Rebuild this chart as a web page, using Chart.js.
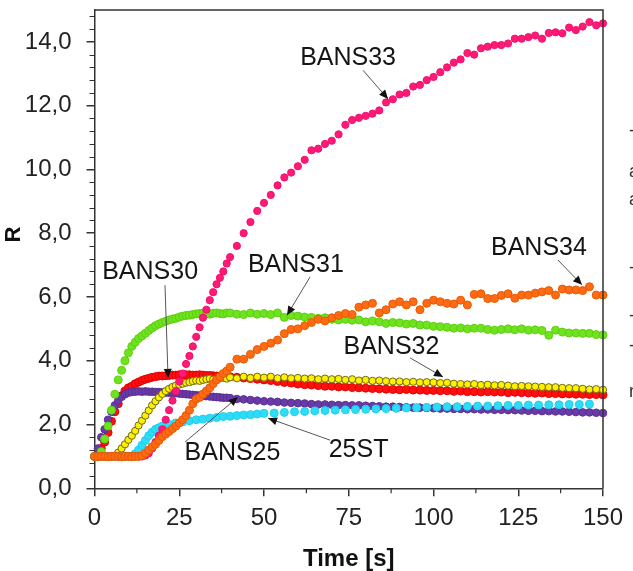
<!DOCTYPE html>
<html><head><meta charset="utf-8">
<script src="https://cdn.jsdelivr.net/npm/chart.js@4.4.1/dist/chart.umd.min.js"></script>
<style>html,body{margin:0;padding:0;background:#fff;overflow:hidden}</style>
</head><body>
<canvas id="c" width="633" height="571"></canvas>
<script>
// ---- data ----
const timeMain = [0,1,2,3,4,5,6,7,8,9,10,11,12,13,14,15,16,17,18,19,20,21,22,23,24,25,26,27,28,29,30,31,32,33,34,35,36,37,38,39,40,
 42,44,46,48,50,52,54,56,58,60,62,64,66,68,70,72,74,76,78,80,82,84,86,88,90,92,94,96,98,100,
 102,104,106,108,110,112,114,116,118,120,122,124,126,128,130,132,134,136,138,140,142,144,146,148,150];
const time25ST = [0,1,2,3,4,5,6,7,8,9,10,11,12,13,14,15,16,17,18,19,20,
 22,24,26,28,30,32,34,36,38,40,42,44,46,48,50,
 53,56,59,62,65,68,71,74,77,80,83,86,89,92,95,98,101,104,107,110,113,116,119,122,125,128,131,134,137,140,143,146];

const bans33 = [1.0,1.0,1.01,0.99,1.0,1.0,1.01,1.0,0.99,1.0,1.0,1.0,1.01,1.0,1.0,
 1.03,1.1,1.25,1.45,1.65,1.85,2.15,2.45,2.75,3.05,3.35,3.6,3.9,4.15,4.45,4.75,5.05,5.35,5.6,5.9,6.15,6.4,6.6,6.8,7.05,7.25,
 7.6,8.0,8.35,8.7,8.95,9.2,9.5,9.75,9.9,10.1,10.3,10.6,10.65,10.8,10.9,11.1,11.4,11.55,11.62,11.68,11.75,11.85,12.1,12.2,12.35,12.4,12.6,12.65,12.8,12.9,
 13.05,13.2,13.35,13.45,13.65,13.6,13.8,13.85,13.9,13.9,13.95,14.1,14.1,14.15,14.2,14.1,14.28,14.3,14.27,14.45,14.37,14.48,14.62,14.52,14.58];
const bans34 = [1.0,0.99,1.0,1.0,0.99,1.0,1.0,1.0,0.99,1.0,1.0,0.99,1.0,1.0,1.02,
 1.1,1.2,1.3,1.38,1.5,1.62,1.7,1.78,1.87,1.95,2.05,2.15,2.28,2.45,2.65,2.8,2.85,2.95,3.05,3.15,3.28,3.4,3.5,3.6,3.68,3.8,
 4.05,4.05,4.2,4.35,4.45,4.55,4.65,4.85,4.98,5.0,5.1,5.2,5.3,5.25,5.35,5.42,5.48,5.45,5.68,5.75,5.8,5.5,5.6,5.78,5.85,5.75,5.85,5.6,5.8,5.9,
 5.85,5.8,5.78,5.9,5.75,6.08,6.1,5.95,5.95,6.05,6.1,5.96,6.06,6.06,6.12,6.16,6.2,6.06,6.25,6.22,6.22,6.2,6.32,6.06,6.06];
const bans31 = [1.0,1.0,1.15,1.55,1.95,2.45,2.95,3.4,3.7,4.0,4.25,4.45,4.58,4.7,4.78,4.86,4.95,5.03,5.1,5.15,5.2,
 5.24,5.28,5.31,5.33,5.37,5.4,5.42,5.43,5.45,5.47,5.48,5.5,5.48,5.46,5.49,5.5,5.48,5.47,5.5,5.5,
 5.46,5.45,5.5,5.46,5.48,5.45,5.5,5.36,5.42,5.4,5.37,5.36,5.33,5.35,5.3,5.28,5.3,5.27,5.28,5.22,5.25,5.22,5.17,5.2,5.19,5.15,5.17,5.12,5.12,5.08,
 5.07,5.05,5.02,5.03,5.0,5.02,5.02,4.98,4.96,4.98,5.0,4.97,5.0,4.96,4.97,4.95,4.8,4.96,4.9,4.87,4.87,4.86,4.86,4.82,4.81];
const bans30 = [1.0,1.05,1.25,1.45,1.75,2.1,2.4,2.65,2.9,3.05,3.15,3.2,3.28,3.33,3.38,3.42,3.45,3.48,3.5,3.52,3.52,
 3.53,3.54,3.55,3.55,3.56,3.55,3.56,3.56,3.55,3.55,3.56,3.55,3.54,3.54,3.53,3.52,3.52,3.52,3.51,3.5,
 3.48,3.46,3.44,3.42,3.4,3.38,3.35,3.32,3.3,3.27,3.25,3.24,3.22,3.2,3.2,3.18,3.18,3.16,3.15,3.14,3.13,3.12,3.11,3.1,3.09,3.1,3.08,3.08,3.07,3.07,
 3.06,3.06,3.04,3.05,3.03,3.03,3.02,3.03,3.02,3.02,3.0,3.01,3.0,2.99,2.98,2.99,2.97,2.97,2.96,2.96,2.95,2.95,2.94,2.94,2.93];
const bans32 = [1.0,1.0,1.0,1.0,1.0,1.0,1.02,1.12,1.25,1.38,1.52,1.65,1.8,1.97,2.12,2.28,2.44,2.6,2.73,2.85,2.96,
 3.05,3.12,3.18,3.22,3.25,3.28,3.31,3.33,3.36,3.38,3.37,3.4,3.42,3.44,3.41,3.42,3.45,3.46,3.44,3.48,
 3.45,3.5,3.46,3.5,3.47,3.5,3.45,3.48,3.45,3.46,3.44,3.45,3.42,3.44,3.42,3.43,3.4,3.42,3.38,3.4,3.37,3.38,3.36,3.35,3.35,3.33,3.34,3.32,3.33,3.32,
 3.3,3.31,3.28,3.27,3.26,3.27,3.24,3.25,3.23,3.24,3.22,3.2,3.21,3.2,3.19,3.18,3.17,3.17,3.15,3.14,3.14,3.12,3.1,3.11,3.09];
const bans25 = [1.0,1.25,1.6,1.85,2.15,2.4,2.6,2.75,2.87,2.95,3.0,3.02,3.03,3.04,3.03,3.04,3.03,3.03,3.02,3.02,3.01,
 3.0,3.0,2.99,2.98,2.97,2.96,2.95,2.94,2.93,2.92,2.91,2.9,2.89,2.88,2.87,2.86,2.85,2.84,2.84,2.83,
 2.8,2.79,2.77,2.75,2.73,2.72,2.71,2.69,2.68,2.67,2.66,2.64,2.63,2.63,2.62,2.61,2.61,2.6,2.6,2.59,2.58,2.57,2.56,2.56,2.55,2.54,2.53,2.53,2.52,2.51,
 2.5,2.5,2.49,2.49,2.48,2.48,2.47,2.47,2.46,2.46,2.45,2.45,2.44,2.43,2.43,2.42,2.42,2.41,2.41,2.4,2.39,2.38,2.38,2.37,2.36];
const st25 = [1.0,1.0,1.0,1.0,1.0,1.0,1.0,1.0,1.0,1.0,1.0,1.01,1.08,1.2,1.35,1.5,1.65,1.76,1.85,1.9,1.95,
 2.0,2.05,2.08,2.12,2.15,2.17,2.2,2.22,2.25,2.26,2.28,2.3,2.31,2.33,2.35,
 2.36,2.38,2.4,2.41,2.43,2.44,2.45,2.46,2.47,2.48,2.49,2.5,2.51,2.52,2.53,2.54,2.55,2.56,2.56,2.57,2.58,2.58,2.59,2.6,2.6,2.61,2.61,2.62,2.62,2.63,2.63,2.64];

const xTickValues = [0,25,50,75,100,125,150];
const yTickValues = [0,2,4,6,8,10,12,14];
const xMinorStep = 12.5;
const yMinorStep = 0.4;

// annotation labels (data coordinates): label centre, line start, arrow tip
const notes = [
  {text:'BANS30', lx:16.4, ly:6.77, sx:20.8, sy:6.37, ex:21.7, ey:3.46},
  {text:'BANS31', lx:59.4, ly:7.0,  sx:63.6, sy:6.63, ex:56.8, ey:5.43},
  {text:'BANS33', lx:74.8, ly:13.49, sx:79.2, sy:13.11, ex:86.6, ey:12.21},
  {text:'BANS34', lx:131.1, ly:7.54, sx:136.7, sy:7.16, ex:143.8, ey:6.38},
  {text:'BANS32', lx:87.6, ly:4.42, sx:93.1, sy:4.09, ex:102.8, ey:3.49},
  {text:'BANS25', lx:40.7, ly:1.09, sx:26.7, sy:1.45, ex:42.3, ey:2.86},
  {text:'25ST',   lx:77.9, ly:1.2,  sx:69.5, sy:1.51, ex:51.2, ey:2.2}
];

const FONT = "'Liberation Sans', Arial, sans-serif";
const pts = (xs, ys) => xs.map((t, i) => ({x: t, y: ys[i]}));

function ds(label, xs, ys, fill, border, r, bw) {
  return {label, data: pts(xs, ys), showLine: false, backgroundColor: fill, borderColor: border,
          pointRadius: r, pointBorderWidth: bw, pointHoverRadius: r, clip: false};
}

const framePlugin = {
  id: 'frame',
  afterDraw(chart) {
    const {ctx, chartArea: a, scales: {x, y}} = chart;
    ctx.save();
    // minor ticks
    ctx.strokeStyle = '#333'; ctx.lineWidth = 1.2;
    ctx.beginPath();
    for (let v = xMinorStep; v < 150; v += 2 * xMinorStep) {
      const px = x.getPixelForValue(v);
      ctx.moveTo(px, a.bottom); ctx.lineTo(px, a.bottom + 5);
    }
    for (let k = 1; k * yMinorStep <= 15.0001; k++) {
      if (k % 5 === 0) continue;
      const py = Math.round(y.getPixelForValue(k * yMinorStep)) + 0.5;
      ctx.moveTo(a.left, py); ctx.lineTo(a.left - 5, py);
    }
    ctx.stroke();
    // frame top & right
    ctx.lineWidth = 1.5; ctx.strokeStyle = '#333';
    ctx.beginPath();
    ctx.moveTo(a.left, a.top); ctx.lineTo(a.right, a.top); ctx.lineTo(a.right, a.bottom);
    ctx.stroke();
    // y title
    ctx.fillStyle = '#111';
    ctx.font = 'bold 22px ' + FONT;
    ctx.textAlign = 'center'; ctx.textBaseline = 'middle';
    ctx.translate(14, 234.5); ctx.rotate(-Math.PI / 2);
    ctx.fillText('R', 0, 0);
    ctx.restore();
    // clipped fragments at right edge
    ctx.save();
    ctx.fillStyle = '#333'; ctx.font = '18px ' + FONT;
    ctx.textAlign = 'left'; ctx.textBaseline = 'middle';
    [['-',131],['a',172],['a',200],['-',268],['-',316],['-',346],['r',392]].forEach(([s, yy]) => ctx.fillText(s, 629, yy));
    ctx.restore();
  },
  afterDatasetsDraw(chart) {
    const {ctx, scales: {x, y}} = chart;
    ctx.save();
    notes.forEach(n => {
      const sx = x.getPixelForValue(n.sx), sy = y.getPixelForValue(n.sy);
      const ex = x.getPixelForValue(n.ex), ey = y.getPixelForValue(n.ey);
      ctx.strokeStyle = '#555'; ctx.lineWidth = 1;
      ctx.beginPath(); ctx.moveTo(sx, sy); ctx.lineTo(ex, ey); ctx.stroke();
      const ang = Math.atan2(ey - sy, ex - sx), L = 9, W = 4;
      ctx.fillStyle = '#111';
      ctx.beginPath();
      ctx.moveTo(ex, ey);
      ctx.lineTo(ex - L * Math.cos(ang) + W * Math.sin(ang), ey - L * Math.sin(ang) - W * Math.cos(ang));
      ctx.lineTo(ex - L * Math.cos(ang) - W * Math.sin(ang), ey - L * Math.sin(ang) + W * Math.cos(ang));
      ctx.closePath(); ctx.fill();
      ctx.fillStyle = '#151515';
      ctx.font = '25px ' + FONT;
      ctx.textAlign = 'center'; ctx.textBaseline = 'middle';
      ctx.fillText(n.text, x.getPixelForValue(n.lx), y.getPixelForValue(n.ly));
    });
    ctx.restore();
  }
};

new Chart(document.getElementById('c'), {
  type: 'scatter',
  data: {
    datasets: [
      ds('BANS34', timeMain, bans34, '#ff6a14', '#e65a00', 4, 1),
      ds('BANS33', timeMain, bans33, '#ff1a78', '#f0106c', 3.6, 1),
      ds('BANS31', timeMain, bans31, '#6ee31e', '#5ccf10', 4, 1),
      ds('25ST', time25ST, st25, '#2edcf7', '#1cd0ee', 4, 1),
      ds('BANS32', timeMain, bans32, '#fff000', '#6e6a10', 3.6, 1),
      ds('BANS25', timeMain, bans25, '#6a3aa6', '#5a2e96', 3.8, 1),
      ds('BANS30', timeMain, bans30, '#ff1010', '#e00000', 4, 1)
    ]
  },
  options: {
    responsive: false, animation: false, devicePixelRatio: 1,
    layout: {padding: {left: 0, right: 30, top: 10, bottom: 0}},
    plugins: {legend: {display: false}, tooltip: {enabled: false}},
    scales: {
      x: {
        type: 'linear', min: 0, max: 150,
        afterBuildTicks: s => { s.ticks = xTickValues.map(v => ({value: v})); },
        afterFit: s => { s.height = 82.7; s.paddingLeft = 0; s.paddingRight = 0; },
        ticks: {font: {family: FONT, size: 24}, color: '#222', padding: 8, maxRotation: 0, autoSkip: false},
        grid: {display: true, drawOnChartArea: false, drawTicks: true, tickLength: 8, color: '#333', lineWidth: 1.5},
        border: {display: true, color: '#333', width: 1.5},
        title: {display: true, text: 'Time [s]', color: '#111', font: {family: FONT, size: 24, weight: 'bold'}, padding: {top: 0, bottom: -3}}
      },
      y: {
        type: 'linear', min: 0, max: 15,
        afterBuildTicks: s => { s.ticks = yTickValues.map(v => ({value: v})); },
        afterFit: s => { s.width = 94.5; s.paddingTop = 0; s.paddingBottom = 0; },
        ticks: {font: {family: FONT, size: 24}, color: '#222', padding: 15, autoSkip: false,
                callback: v => v.toFixed(1).replace('.', ',')},
        grid: {display: true, drawOnChartArea: false, drawTicks: true, tickLength: 8, color: '#333', lineWidth: 1.5},
        border: {display: true, color: '#333', width: 1.5}
      }
    }
  },
  plugins: [framePlugin]
});
</script>
</body></html>
